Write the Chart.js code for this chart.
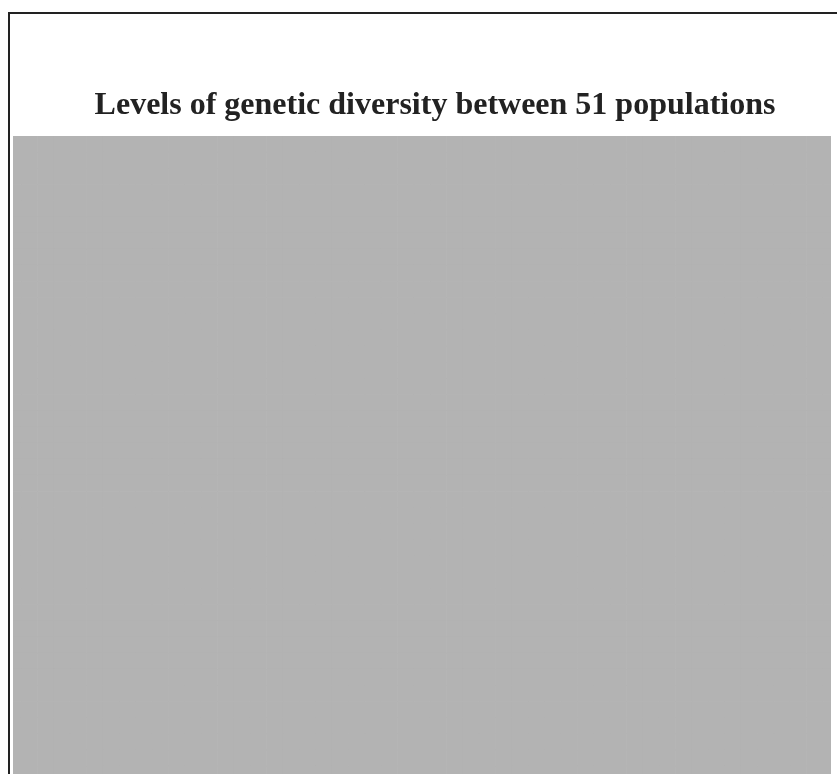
<!DOCTYPE html>
<html>
<head>
<meta charset="utf-8">
<script src="https://cdn.jsdelivr.net/npm/chart.js@4/dist/chart.umd.min.js"></script>
<style>
  html, body { margin: 0; padding: 0; background: #fff; overflow: hidden; }
  #frame {
    position: absolute; left: 8px; top: 12px; width: 900px; height: 900px;
    border-left: 2px solid #222; border-top: 2px solid #222;
  }
  #chartCanvas { position: absolute; left: 0; top: 0; }
</style>
</head>
<body>
<div id="frame"></div>
<canvas id="chartCanvas" width="837" height="960"></canvas>
<script>
let populations = [
  'P1','P2','P3','P4','P5','P6','P7','P8','P9','P10',
  'P11','P12','P13','P14','P15','P16','P17','P18','P19','P20',
  'P21','P22','P23','P24','P25','P26','P27','P28','P29','P30',
  'P31','P32','P33','P34','P35','P36','P37','P38','P39','P40',
  'P41','P42','P43','P44','P45','P46','P47','P48','P49','P50','P51'
];
// every cell in the matrix shows the same grey level
let cellValues = [
  1,1,1,1,1,1,1,1,1,1,
  1,1,1,1,1,1,1,1,1,1,
  1,1,1,1,1,1,1,1,1,1,
  1,1,1,1,1,1,1,1,1,1,
  1,1,1,1,1,1,1,1,1,1,1
];
let cellColor = '#b3b3b3';

// one stacked dataset per row of the matrix
let datasets = populations.map(row => ({
  label: row,
  data: cellValues,
  backgroundColor: cellColor,
  borderWidth: 0,
  barPercentage: 1,
  categoryPercentage: 1
}));

// title sits a bit right of the grid centre in the original
let titleShift = {
  id: 'titleShift',
  afterLayout(chart) {
    if (chart.titleBlock) {
      chart.titleBlock.left += 13;
      chart.titleBlock.right += 13;
    }
  }
};

let ctx = document.getElementById('chartCanvas').getContext('2d');
let chartInstance = new Chart(ctx, {
  type: 'bar',
  data: {
    labels: populations,
    datasets: datasets
  },
  options: {
    responsive: false,
    animation: false,
    layout: { padding: { left: 13, right: 6, top: 0, bottom: 0 } },
    plugins: {
      legend: { display: false },
      tooltip: { enabled: false },
      title: {
        display: true,
        text: 'Levels of genetic diversity between 51 populations',
        color: '#222',
        font: { family: '"Liberation Serif", "Times New Roman", serif', size: 32, weight: 'bold' },
        padding: { top: 87, bottom: 10.6 }
      }
    },
    scales: {
      x: { stacked: true, display: false, offset: false },
      y: { stacked: true, display: false, min: 0, max: populations.length }
    }
  },
  plugins: [titleShift]
});
</script>
</body>
</html>
